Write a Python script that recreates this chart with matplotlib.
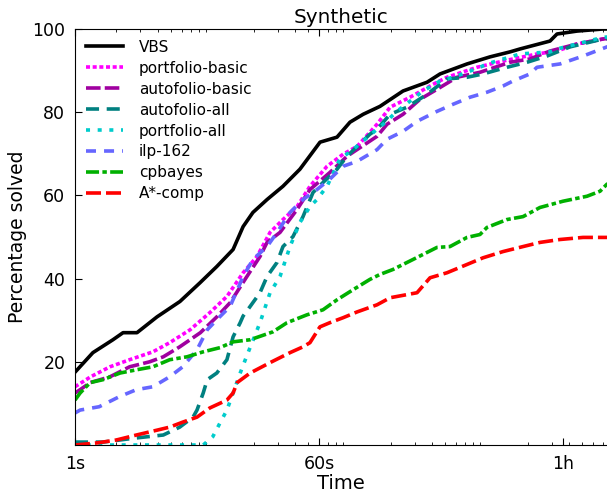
import matplotlib
matplotlib.use('Agg')
import matplotlib.pyplot as plt

# time in seconds, percentage solved
vbs_t = [1, 1.35, 1.89, 2.24, 2.83, 3.96, 5.82, 8.15, 10.8, 14.2, 16.8, 19.8, 25.1, 32.8, 43.6,
         61.1, 81.2, 101, 126, 167, 246, 368, 458, 720, 1059, 1482, 1751, 2898, 3260, 4560, 7050, 9400]
vbs_p = [17.5, 22.2, 25.3, 27.0, 27.0, 30.8, 34.5, 39.0, 42.9, 47.0, 52.5, 55.9, 59.0, 62.2, 66.3,
         72.8, 74.0, 77.6, 79.5, 81.4, 85.1, 87.2, 89.2, 91.6, 93.3, 94.5, 95.2, 97.1, 98.8, 99.5, 100, 100]

pb_t = [1, 1.3, 1.8, 2.5, 3.7, 4.9, 6.9, 9.6, 12.8, 16.8, 21.2, 26.4, 32.8, 41.5, 51.6, 68.7, 90,
        114, 159, 198, 277, 407, 514, 851, 1318, 2329, 3258, 4560, 7050, 9400]
pb_p = [14, 16.4, 18.8, 20.5, 22.4, 24.6, 27.7, 31.8, 35.7, 41.4, 45.3, 51.1, 54.2, 57.3, 62.2, 67.0, 69.9,
        71.8, 77.1, 81.2, 83.6, 86.7, 88.4, 90.8, 92.3, 94.0, 94.7, 96.4, 97.6, 98]

ab_t = [1, 1.09, 1.29, 1.8, 2.5, 3.5, 4.4, 5.8, 8.2, 10.8, 13.5, 17.9, 22.3, 25.1, 31.2, 41.5, 51.6,
        72, 96, 159, 188, 246, 327, 435, 608, 895, 1482, 2070, 2898, 4560, 7050, 9400]
ab_p = [12.5, 13.3, 15, 16.4, 18.8, 20, 21.2, 23.6, 27, 30.8, 34.2, 40.5, 45.3, 48.7, 51.1, 56.6, 61.4,
        65.5, 69.4, 74.2, 77.1, 79.5, 83.1, 85.5, 88.4, 89.6, 92, 92.8, 94.7, 96.4, 97.6, 98]

aa_t = [1, 1.6, 2.8, 4.4, 5.8, 7.25, 7.75, 8.6, 9.2, 10.8, 12.8, 14.2, 16.0, 16.8, 18.9, 22.3, 25.1,
        29.7, 32.8, 38.8, 45.9, 54.3, 64.2, 81.2, 96, 141, 159, 198, 263, 368, 514, 720, 942, 1409,
        1969, 2754, 4055, 7050, 9400]
aa_p = [0.7, 0.7, 1.7, 2.4, 4.3, 6.7, 8.4, 12.5, 15.7, 17.3, 20.5, 26, 29.4, 31, 33.3, 36.6, 40.5,
        43.9, 47.7, 50.1, 54.9, 60.7, 63.1, 66.3, 69.4, 74.7, 75.9, 79.5, 81.2, 84.3, 88, 88.4, 89.2, 90.8,
        92, 93.5, 95.7, 97.6, 98]

pa_t = [1, 8.6, 10.1, 11.4, 12.8, 14.2, 16.0, 17.9, 22.3, 26.4, 31.2, 36.9, 43.6, 51.6, 58, 68.7, 85,
        106, 159, 176, 222, 344, 458, 608, 895, 1006, 1751, 2898, 3258, 4560, 7050, 9400]
pa_p = [0, 0, 2, 5.3, 8.4, 12.5, 17.3, 21.5, 29.4, 36.6, 40.5, 47.7, 53.5, 57.3, 59, 62.2, 68.7,
        71, 75.9, 77.1, 80.2, 85.1, 87.5, 88.7, 90.8, 91.6, 94, 94.5, 95.2, 96.4, 98, 98.3]

ilp_t = [1, 1.09, 1.5, 2.1, 2.8, 3.7, 4.9, 6.1, 7.75, 9.2, 10.8, 13.5, 16.8, 19.8, 25.1, 29.7, 36.9,
         45.9, 58, 72, 90, 114, 159, 188, 246, 311, 435, 569, 757, 1006, 1318, 1557, 2070, 2329,
         3428, 5046, 7540, 9400]
ilp_p = [7.7, 8.4, 9.2, 11.6, 13.3, 14, 16.4, 18.8, 22.9, 27.7, 30.1, 33.3, 40.5, 44.6, 47.7, 51.1, 55.9,
         59, 61.4, 63.9, 67, 68.2, 71, 73.5, 75.4, 77.8, 80.2, 81.9, 83.6, 84.8, 86.3, 87.5, 89.2, 90.8,
         91.6, 93.5, 95.7, 96.5]

cp_t = [1, 1.09, 1.29, 1.6, 2.13, 2.83, 3.7, 4.9, 6.55, 8.6, 11.4, 14.2, 18.9, 27.7, 35.1, 49.1, 64.2,
        81.2, 106, 141, 167, 208, 291, 435, 541, 720, 895, 1006, 1409, 1843, 2450, 3604, 5395, 6710,
        7540, 9400]
cp_p = [10.8, 12.5, 15, 15.7, 17.3, 18.1, 18.8, 20.5, 21.2, 22.4, 23.4, 24.8, 25.3, 27.2, 29.4, 31.3, 32.5,
        34.9, 37.3, 39.8, 41, 42.2, 44.6, 47.5, 47.7, 49.9, 50.6, 52.3, 54.2, 54.9, 57.1, 58.6, 59.8, 61,
        62.7, 63.5]

ac_t = [1, 1.45, 2.0, 2.8, 4.0, 4.9, 6.1, 7.75, 9.6, 12.8, 14.2, 15.2, 18.9, 26.4, 36.9, 45.9, 51.6,
        61, 72, 90, 114, 159, 198, 311, 387, 514, 720, 942, 1318, 1843, 2450, 3428, 5046, 7540, 9400]
ac_p = [0, 0.5, 1.2, 2.4, 3.6, 4.3, 5.5, 6.7, 8.9, 10.8, 12.5, 15, 17.3, 19.8, 22.2, 23.6, 24.6,
        28.4, 29.4, 30.6, 32, 33.7, 35.4, 36.6, 40.2, 41.4, 43.4, 45, 46.5, 47.7, 48.7, 49.4, 49.9, 49.9, 49.9]

plt.rcParams['lines.scale_dashes'] = False

fig = plt.figure(figsize=(6.07, 4.95), dpi=100)
ax = fig.add_axes([75 / 607, 50 / 495, 532 / 607, 416 / 495])

lw = 2.6
ax.plot(vbs_t, vbs_p, color='black', lw=lw, label='VBS')
ax.plot(pb_t, pb_p, color='#ff00ff', lw=lw, dashes=(2.9, 1.9), label='portfolio-basic')
ax.plot(ab_t, ab_p, color='#a000a0', lw=lw, dashes=(10.5, 3), label='autofolio-basic')
ax.plot(aa_t, aa_p, color='#008080', lw=lw, dashes=(9.4, 5.5), label='autofolio-all')
ax.plot(pa_t, pa_p, color='#00cccc', lw=lw, dashes=(2.9, 5.5), label='portfolio-all')
ax.plot(ilp_t, ilp_p, color='#6666ff', lw=lw, dashes=(7.2, 5.8), label='ilp-162')
ax.plot(cp_t, cp_p, color='#00b000', lw=lw, dashes=(9.4, 2.4, 3.2, 2.4), label='cpbayes')
ax.plot(ac_t, ac_p, color='#ff0000', lw=lw, dashes=(10.8, 3.6), label='A*-comp')

ax.set_xscale('log')
ax.set_xlim(1, 10 ** (532 / 137.2))
ax.set_ylim(0, 100)
ax.set_xticks([1, 60, 3600])
ax.set_xticklabels(['1s', '60s', '1h'])
ax.set_yticks([20, 40, 60, 80, 100])
ax.tick_params(which='both', direction='in', top=True, right=False, labelsize=12.5)
ax.tick_params(which='major', length=5, pad=7)
ax.tick_params(which='minor', length=2.5)
ax.spines['right'].set_visible(False)

ax.set_xlabel('Time', fontsize=14, labelpad=1)
ax.set_ylabel('Percentage solved', fontsize=13.5)
ax.set_title('Synthetic', fontsize=14.4, pad=4)

ax.legend(loc='upper left', frameon=False, fontsize=11, handlelength=2.42,
          handletextpad=1.05, labelspacing=0.39, borderaxespad=0.3)

fig.savefig('out.png', dpi=100)
